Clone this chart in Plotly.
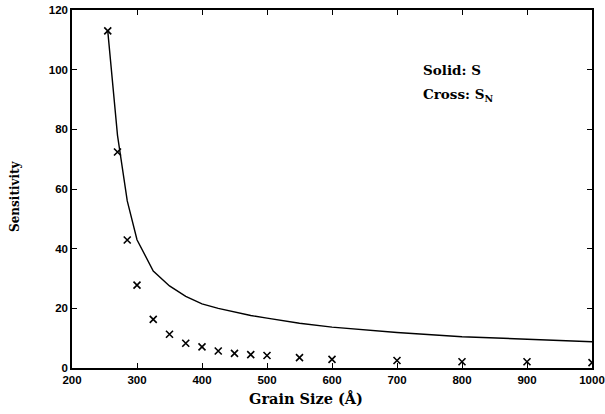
import plotly.graph_objects as go

grain_size = [255, 270, 285, 300, 325, 350, 375, 400, 425, 450, 475, 500, 550, 600, 700, 800, 900, 1000]
s_solid = [113, 78, 56, 43, 32.5, 27.5, 24, 21.5, 20, 18.7, 17.6, 16.7, 15, 13.7, 11.9, 10.5, 9.6, 8.8]
s_cross = [113, 72.4, 42.9, 27.8, 16.3, 11.3, 8.3, 7.1, 5.7, 4.9, 4.5, 4.2, 3.5, 2.9, 2.5, 2.1, 2.1, 1.8]

x_ticks = [200, 300, 400, 500, 600, 700, 800, 900, 1000]
y_ticks = [0, 20, 40, 60, 80, 100, 120]

fig = go.Figure()
fig.add_trace(go.Scatter(x=grain_size, y=s_solid, mode="lines",
                         line=dict(color="black", width=1.4), showlegend=False))
fig.add_trace(go.Scatter(x=grain_size, y=s_cross, mode="markers",
                         marker=dict(symbol="x-thin", size=7, line=dict(color="black", width=1.6)),
                         showlegend=False))

tickfont = dict(family="Liberation Sans", size=11.5, color="black", weight="bold")
serif = "DejaVu Serif"

fig.update_xaxes(range=[200, 1000], tickvals=x_ticks, ticks="inside", ticklen=5,
                 tickcolor="black", showline=True, linecolor="black", linewidth=1.5,
                 mirror="ticks", showgrid=False, zeroline=False, tickfont=tickfont,
                 automargin=False)
fig.update_yaxes(range=[0, 120], tickvals=y_ticks, ticks="inside", ticklen=5,
                 tickcolor="black", showline=True, linecolor="black", linewidth=1.5,
                 mirror="ticks", showgrid=False, zeroline=False, tickfont=tickfont,
                 automargin=False)

fig.add_annotation(x=-0.11, y=0.48, xref="paper", yref="paper", text="Sensitivity", showarrow=False,
                   textangle=-90, xanchor="center", yanchor="middle",
                   font=dict(family=serif, size=12, color="black", weight="bold"))
fig.add_annotation(x=560, y=-0.084, xref="x", yref="paper", text="Grain Size (Å)", showarrow=False,
                   xanchor="center", yanchor="middle",
                   font=dict(family=serif, size=14.5, color="black", weight="bold"))
fig.add_annotation(x=737, y=100, xref="x", yref="y", text="Solid: S", showarrow=False,
                   xanchor="left", yanchor="middle",
                   font=dict(family=serif, size=13.5, color="black", weight="bold"))
fig.add_annotation(x=737, y=91.5, xref="x", yref="y", text="Cross: S<sub>N</sub>", showarrow=False,
                   xanchor="left", yanchor="middle",
                   font=dict(family=serif, size=13.5, color="black", weight="bold"))

fig.update_layout(width=605, height=414, margin=dict(l=72, r=13, t=10, b=46, autoexpand=False),
                  plot_bgcolor="white", paper_bgcolor="white")
fig.write_html("out.html", config={"displayModeBar": False},
               post_script="document.body.style.margin='0px';")
